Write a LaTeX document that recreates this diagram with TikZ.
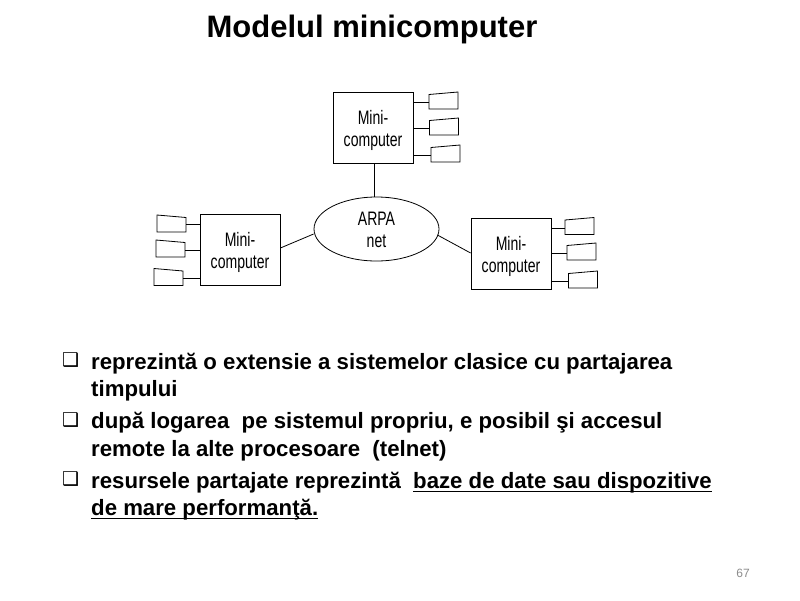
\documentclass[tikz,border=0pt]{standalone}
\usepackage{fontspec}
\usepackage{xcolor}
\usepackage{tikz}
\usetikzlibrary{calc,shapes.geometric}
\setmainfont{Liberation Sans}
\newfontfamily\narrowfont[FakeStretch=0.72]{Liberation Sans}
\newfontfamily\bulletfont{DejaVu Sans}
\definecolor{pagegray}{HTML}{8C8C8C}
\tikzset{
  wire/.style={draw=black, line width=0.8pt},
  minibox/.style={draw=black, line width=0.8pt, minimum width=80pt, minimum height=71pt, inner sep=0pt,
    align=center, font=\narrowfont\fontsize{19.5}{22}\selectfont},
  arpa/.style={ellipse, draw=black, line width=0.8pt, minimum width=125pt, minimum height=64pt, inner sep=0pt,
    align=center, font=\narrowfont\fontsize{19.5}{22}\selectfont},
  termbox/.style={minimum width=29pt, minimum height=17pt, inner sep=0pt, outer sep=0pt},
  lab/.style={anchor=base west, inner sep=0pt, font=\bfseries\fontsize{22.2}{26}\selectfont},
  tick/.style={anchor=base west, inner sep=0pt, font=\bulletfont\fontsize{19}{22}\selectfont},
}
% terminals: name, centre; the low corner is on the side of the wire
\newcommand{\termleft}[3]{
  \node[termbox] (#1) at (#2,#3) {};
  \draw[wire] (#1.north west) -- (#1.south west) -- (#1.south east)
    -- ($(#1.north east)+(0,2.5)$) -- cycle;
}
\newcommand{\termright}[3]{
  \node[termbox] (#1) at (#2,#3) {};
  \draw[wire] ($(#1.north west)+(0,2.5)$) -- (#1.south west) -- (#1.south east)
    -- (#1.north east) -- cycle;
}
\newcommand{\dropline}{\rule{0pt}{20pt}}
\newcommand{\lowdrop}{\rule{0pt}{16pt}}
\newcommand{\lowline}[1]{\underline{\smash{#1}\rule[-1.5pt]{0pt}{1pt}}}

\begin{document}
\begin{tikzpicture}[x=1pt,y=-1pt]
\useasboundingbox (0,0) rectangle (800,600);
\fill[white] (0,0) rectangle (800,600);

\node[anchor=base, inner sep=0pt, font=\bfseries\fontsize{31}{36}\selectfont] (title) at (372,37) {Modelul minicomputer};

\node[minibox] (topbox) at (373,127.5) {\dropline Mini-\\computer};
\node[minibox] (leftbox) at (240,249.5) {\dropline Mini-\\computer};
\node[minibox] (rightbox) at (511,253.5) {\dropline Mini-\\computer};
\node[arpa] (net) at (376.5,229) {\lowdrop ARPA\\net};

\draw[wire] ([xshift=-2pt]net.north |- topbox.south) -- ([xshift=-2pt]net.north);
\draw[wire] (leftbox.east |- 0,248) -- (net.west |- 0,234);
\draw[wire] (net.east |- 0,235) ++(-2,0) -- (rightbox.west |- 0,253);

\termright{topa}{443.5}{100.5}
\termright{topb}{444}{126.5}
\termright{topc}{445.5}{153.5}
\draw[wire] ([yshift=-1.5pt]topa.west) -- ([yshift=-1.5pt]topa.west -| topbox.east);
\draw[wire] ([yshift=-1.5pt]topb.west) -- ([yshift=-1.5pt]topb.west -| topbox.east);
\draw[wire] ([yshift=-1.5pt]topc.west) -- ([yshift=-1.5pt]topc.west -| topbox.east);

\termleft{lefta}{171.5}{223.5}
\termleft{leftb}{170.5}{248.5}
\termleft{leftc}{168.5}{277}
\draw[wire] ([yshift=-1pt]lefta.east) -- ([yshift=-1pt]lefta.east -| leftbox.west);
\draw[wire] ([yshift=-1.5pt]leftb.east) -- ([yshift=-1.5pt]leftb.east -| leftbox.west);
\draw[wire] ([yshift=-1pt]leftc.east) -- ([yshift=-1pt]leftc.east -| leftbox.west);

\termright{righta}{579.5}{226}
\termright{rightb}{581.5}{251.5}
\termright{rightc}{583}{279.5}
\draw[wire] ([yshift=-2pt]righta.west) -- ([yshift=-2pt]righta.west -| rightbox.east);
\draw[wire] ([yshift=-1.5pt]rightb.west) -- ([yshift=-1.5pt]rightb.west -| rightbox.east);
\draw[wire] ([yshift=-1.5pt]rightc.west) -- ([yshift=-1.5pt]rightc.west -| rightbox.east);

\node[tick] (ticka) at (62,366) {❑};
\node[tick] (tickb) at (62,426) {❑};
\node[tick] (tickc) at (62,485) {❑};
\node[lab] (linea) at (91,369.5) {reprezintă o extensie a sistemelor clasice cu partajarea};
\node[lab] (lineb) at (91,396.5) {timpului};
\node[lab] (linec) at (91,428.5) {după logarea\ \ pe sistemul propriu, e posibil şi accesul};
\node[lab] (lined) at (91,456) {remote la alte procesoare\ \ (telnet)};
\node[lab] (linee) at (91,488) {resursele partajate reprezintă\ \ \lowline{baze de date sau dispozitive}};
\node[lab] (linef) at (91,515) {\lowline{de mare performanţă.}};

\node[anchor=base, inner sep=0pt, text=pagegray, font=\fontsize{12}{14}\selectfont] (pagenum) at (743,577) {67};
\end{tikzpicture}
\end{document}
